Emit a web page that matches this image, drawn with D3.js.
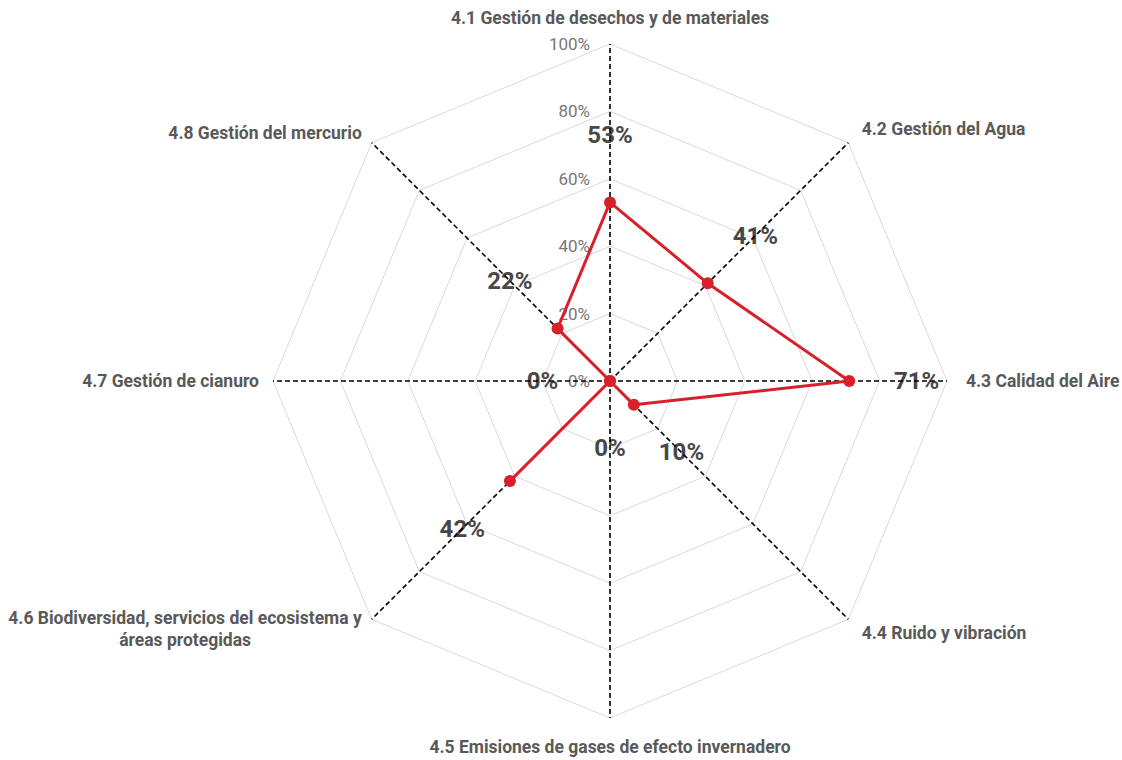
<!DOCTYPE html>
<html><head><meta charset="utf-8">
<script src="https://cdn.jsdelivr.net/npm/d3@7"></script>
<style>body{margin:0;background:#fff}svg{display:block;font-family:Roboto,"Noto Sans",sans-serif}</style>
</head><body><svg id="c" width="1122" height="760"></svg>
<script>
const categories = [
  ["4.1 Gestión de desechos y de materiales"],
  ["4.2 Gestión del Agua"],
  ["4.3 Calidad del Aire"],
  ["4.4 Ruido y vibración"],
  ["4.5 Emisiones de gases de efecto invernadero"],
  ["4.6 Biodiversidad, servicios del ecosistema y", "áreas protegidas"],
  ["4.7 Gestión de cianuro"],
  ["4.8 Gestión del mercurio"]
];
const values = [53, 41, 71, 10, 0, 42, 0, 22];
const tickValues = [0, 20, 40, 60, 80, 100];
const tickLabels = ["0%", "20%", "40%", "60%", "80%", "100%"];

const svg = d3.select("#c");
const cx = 610, cy = 381, R = 337;
const n = categories.length;
const r = d3.scaleLinear().domain([0, 100]).range([0, R]);
const ang = d3.scaleLinear().domain([0, n]).range([0, 2 * Math.PI]);
const pt = (i, v) => [cx + r(v) * Math.sin(ang(i)), cy - r(v) * Math.cos(ang(i))];
const g = svg.append("g");

// grid rings
tickValues.slice(1).forEach(t => {
  g.append("polygon")
    .attr("points", d3.range(n).map(i => pt(i, t).join(",")).join(" "))
    .attr("fill", "none").attr("stroke", "#d9d9d9").attr("stroke-width", 1);
});

// tick labels
g.selectAll("text.tick").data(tickValues).join("text")
  .attr("x", cx - 20).attr("y", d => cy - r(d))
  .attr("text-anchor", "end").attr("dominant-baseline", "central")
  .attr("font-size", 17).attr("fill", "#777")
  .text((d, i) => tickLabels[i]);

// value labels
g.selectAll("text.val").data(values).join("text")
  .attr("x", (d, i) => pt(i, d + 20)[0]).attr("y", (d, i) => pt(i, d + 20)[1])
  .attr("text-anchor", "middle").attr("dominant-baseline", "central")
  .attr("font-size", 24).attr("font-weight", "bold").attr("fill", "#474747")
  .text(d => d + "%");

// axes
d3.range(n).forEach(i => {
  const p = pt(i, 100);
  g.append("line").attr("x1", cx).attr("y1", cy).attr("x2", p[0]).attr("y2", p[1])
    .attr("stroke", "#000").attr("stroke-width", 1.6).attr("stroke-dasharray", "5,3");
});

// axis labels
categories.forEach((lines, i) => {
  const a = ang(i);
  const s = Math.sin(a), c = Math.cos(a);
  const off = s < -0.1 ? 14 : 19;
  const x = cx + (R + off) * s, y = cy - (R + off) * c;
  const anchor = Math.abs(s) < 0.1 ? "middle" : (s > 0 ? "start" : "end");
  const lh = 22;
  let y0;
  if (c > 0.9) y0 = y - 7 - (lines.length - 1) * lh;
  else if (c < -0.9) y0 = y + 10;
  else y0 = y - (lines.length - 1) * lh / 2;
  const t = g.append("text")
    .attr("font-size", 17.5).attr("font-weight", "bold").attr("fill", "#595959");
  const spans = lines.map((l, k) => t.append("tspan").attr("y", y0 + k * lh)
    .attr("dominant-baseline", "central").text(l));
  if (lines.length === 1) {
    t.attr("text-anchor", anchor);
    spans[0].attr("x", x);
  } else {
    const w = d3.max(spans, sp => sp.node().getComputedTextLength());
    const mid = anchor === "end" ? x - w / 2 : anchor === "start" ? x + w / 2 : x;
    t.attr("text-anchor", "middle");
    spans.forEach(sp => sp.attr("x", mid));
  }
});

// data line
g.append("polygon")
  .attr("points", values.map((v, i) => pt(i, v).join(",")).join(" "))
  .attr("fill", "none").attr("stroke", "#d7202a").attr("stroke-width", 3).attr("stroke-linejoin", "round");
g.selectAll("circle").data(values).join("circle")
  .attr("cx", (d, i) => pt(i, d)[0]).attr("cy", (d, i) => pt(i, d)[1])
  .attr("r", 6).attr("fill", "#d7202a");
</script></body></html>
